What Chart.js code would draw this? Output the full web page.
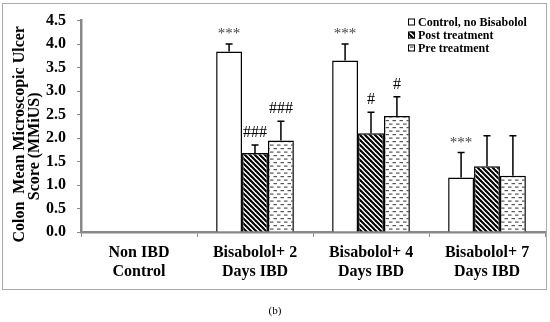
<!DOCTYPE html>
<html>
<head>
<meta charset="utf-8">
<script src="https://cdn.jsdelivr.net/npm/chart.js@4.4.0/dist/chart.umd.min.js"></script>
<style>
  body { margin: 0; background: #fff; }
  #wrap { position: relative; width: 550px; height: 322px; }
  #frame { position: absolute; left: 2px; top: 3px; width: 543px; height: 285px; border: 1px solid #aaa; }
  #chart { position: absolute; left: 0; top: 0; }
  #caption { position: absolute; left: 0; width: 550px; top: 304px; text-align: center;
             font: 11px "Liberation Serif", "Times New Roman", serif; color: #000; }
</style>
</head>
<body>
<div id="wrap">
  <div id="frame"></div>
  <canvas id="chart" width="550" height="322"></canvas>
  <div id="caption">(b)</div>
</div>
<script>
// 데이터
const categories = [['Non IBD', 'Control'], ['Bisabolol+ 2', 'Days IBD'], ['Bisabolol+ 4', 'Days IBD'], ['Bisabolol+ 7', 'Days IBD']];
const seriesNames = ['Control, no Bisabolol', 'Post treatment', 'Pre treatment'];

const controlValues = [0, 3.84, 3.65, 1.16];
const controlErrors = [0, 0.16, 0.35, 0.53];
const controlMarks = ['', '***', '***', '***'];

const postValues = [0, 1.68, 2.10, 1.40];
const postErrors = [0, 0.17, 0.45, 0.65];
const postMarks = ['', '###', '#', ''];

const preValues = [0, 1.95, 2.47, 1.20];
const preErrors = [0, 0.41, 0.41, 0.85];
const preMarks = ['', '###', '#', ''];

const yTicks = [0, 0.5, 1.0, 1.5, 2.0, 2.5, 3.0, 3.5, 4.0, 4.5];

const SERIF = '"Liberation Serif", "Times New Roman", serif';
const NB = '\u00a0';

// 패턴 만들기
function makeHatch() {
    const s = 5;
    const c = document.createElement('canvas');
    c.width = s; c.height = s;
    const g = c.getContext('2d');
    g.fillStyle = '#fff';
    g.fillRect(0, 0, s, s);
    g.strokeStyle = '#000';
    g.lineWidth = 2.1;
    for (let k = -1; k <= 1; k++) {
        g.beginPath();
        g.moveTo(k * s - 1, -1);
        g.lineTo(k * s + s + 1, s + 1);
        g.stroke();
    }
    return document.createElement('canvas').getContext('2d').createPattern(c, 'repeat');
}

function makeDashes() {
    const w = 7, h = 7;
    const c = document.createElement('canvas');
    c.width = w; c.height = h;
    const g = c.getContext('2d');
    g.fillStyle = '#fff';
    g.fillRect(0, 0, w, h);
    g.fillStyle = '#555';
    g.fillRect(0.5, 1, 3.5, 1.2);
    g.fillRect(4, 4.5, 3.5, 1.2);
    g.fillRect(-3, 4.5, 3.5, 1.2);
    return document.createElement('canvas').getContext('2d').createPattern(c, 'repeat');
}

const hatch = makeHatch();
const dashes = makeDashes();

const errorSets = [controlErrors, postErrors, preErrors];
const markSets = [controlMarks, postMarks, preMarks];

// 오차 막대 + 유의성 표시
const errorBarPlugin = {
    id: 'errorBars',
    afterDatasetsDraw(chart) {
        const ctx = chart.ctx;
        const y = chart.scales.y;
        ctx.save();
        chart.data.datasets.forEach((ds, di) => {
            const meta = chart.getDatasetMeta(di);
            meta.data.forEach((bar, i) => {
                const v = ds.data[i];
                const e = errorSets[di][i];
                const yTop = y.getPixelForValue(v + e);
                if (e > 0) {
                    ctx.strokeStyle = '#000';
                    ctx.lineWidth = 1.5;
                    ctx.beginPath();
                    ctx.moveTo(bar.x, y.getPixelForValue(v));
                    ctx.lineTo(bar.x, yTop);
                    ctx.moveTo(bar.x - 3.5, yTop);
                    ctx.lineTo(bar.x + 3.5, yTop);
                    ctx.stroke();
                }
                const m = markSets[di][i];
                if (m) {
                    ctx.textAlign = 'center';
                    ctx.textBaseline = 'middle';
                    if (m[0] === '*') {
                        ctx.fillStyle = '#444';
                        ctx.font = '15px ' + SERIF;
                        ctx.fillText(m, bar.x, yTop - 10);
                    } else {
                        ctx.fillStyle = '#000';
                        ctx.font = '16px ' + SERIF;
                        ctx.fillText(m, bar.x, yTop - 12);
                    }
                }
            });
        });
        ctx.restore();
    }
};

// 범례 (차트 영역 안쪽 오른쪽 위)
const legendPlugin = {
    id: 'innerLegend',
    afterDraw(chart) {
        const ctx = chart.ctx;
        ctx.save();
        ctx.font = 'bold 12px ' + SERIF;
        ctx.textBaseline = 'middle';
        ctx.textAlign = 'left';
        chart.data.datasets.forEach((ds, i) => {
            const yy = 22 + i * 13;
            ctx.fillStyle = ds.backgroundColor;
            ctx.fillRect(408, yy - 3.5, 7, 7);
            ctx.strokeStyle = '#000';
            ctx.lineWidth = 1;
            ctx.strokeRect(408.5, yy - 3, 6, 6);
            ctx.fillStyle = '#000';
            ctx.fillText(ds.label, 418, yy + 1);
        });
        ctx.restore();
    }
};

new Chart(document.getElementById('chart'), {
    type: 'bar',
    data: {
        labels: categories,
        datasets: [
            { label: seriesNames[0], data: controlValues, backgroundColor: '#fff' },
            { label: seriesNames[1], data: postValues, backgroundColor: hatch },
            { label: seriesNames[2], data: preValues, backgroundColor: dashes }
        ]
    },
    options: {
        responsive: false,
        animation: false,
        devicePixelRatio: 1,
        layout: { padding: { left: 0, top: 15, right: 5, bottom: 0 } },
        datasets: {
            bar: {
                borderColor: '#000',
                borderWidth: 1.5,
                categoryPercentage: 0.67,
                barPercentage: 1.0
            }
        },
        plugins: {
            legend: { display: false },
            tooltip: { enabled: false }
        },
        scales: {
            x: {
                grid: { drawOnChartArea: false, drawTicks: true, tickLength: 5, color: '#888', offset: true },
                border: { color: '#888', width: 2.5 },
                ticks: { color: '#000', font: { family: SERIF, size: 16, weight: 'bold', lineHeight: 1.15 }, padding: 7, maxRotation: 0 },
                afterFit(scale) { scale.height = 90; }
            },
            y: {
                min: 0,
                max: 4.5,
                afterBuildTicks(scale) { scale.ticks = yTicks.map(v => ({ value: v })); },
                grid: { drawOnChartArea: false, drawTicks: true, tickLength: 4, color: '#888' },
                border: { color: '#888', width: 2.5 },
                ticks: {
                    color: '#000',
                    font: { family: SERIF, size: 16, weight: 'bold' },
                    padding: 11,
                    callback: v => Number(v).toFixed(1)
                },
                title: {
                    display: true,
                    // 끝의 공백으로 제목을 조금 아래로 내림
                    text: ['Colon  Mean Microscopic Ulcer' + NB.repeat(4), 'Score (MMiUS)' + NB.repeat(10)],
                    color: '#000',
                    font: { family: SERIF, size: 16, weight: 'bold', lineHeight: 0.95 },
                    padding: { top: 12, bottom: 0 }
                },
                afterFit(scale) { scale.width = 81; }
            }
        }
    },
    plugins: [errorBarPlugin, legendPlugin]
});
</script>
</body>
</html>
